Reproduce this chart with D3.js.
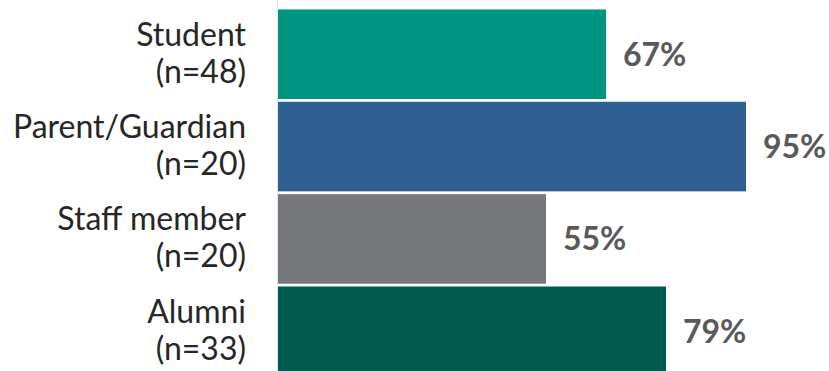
<!DOCTYPE html>
<html><head><meta charset="utf-8">
<script src="https://cdn.jsdelivr.net/npm/d3@7"></script>
<style>html,body{margin:0;padding:0;background:#fff;overflow:hidden}</style>
</head><body>
<svg id="chart" width="829" height="371"></svg>
<script>
const categories = ["Student", "Parent/Guardian", "Staff member", "Alumni"];
const counts = ["(n=48)", "(n=20)", "(n=20)", "(n=33)"];
const values = [67, 95, 55, 79];
const colors = ["#009483", "#2F5E92", "#77787B", "#00594F"];

const svg = d3.select("#chart");
const x = d3.scaleLinear().domain([1.4, 100]).range([278, 771]);
const y = d3.scaleBand().domain(categories).range([8.5, 377]).paddingInner(0.03).paddingOuter(0.01);

const font = "Lato, 'Open Sans', sans-serif";

svg.selectAll("rect.bar").data(categories).join("rect")
  .attr("class", "bar")
  .attr("x", x.range()[0])
  .attr("y", d => y(d))
  .attr("width", (d, i) => x(values[i]) - x.range()[0])
  .attr("height", y.bandwidth())
  .attr("fill", (d, i) => colors[i]);

svg.append("line").attr("x1", x.range()[0] - 0.5).attr("x2", x.range()[0] - 0.5)
  .attr("y1", 0).attr("y2", 371).attr("stroke", "#e4e4e4").attr("stroke-width", 1);

const lbl = svg.selectAll("text.cat").data(categories).join("text")
  .attr("class", "cat")
  .attr("text-anchor", "end")
  .attr("font-family", font)
  .attr("font-size", 32)
  .attr("fill", "#262626");
lbl.append("tspan").attr("x", 246).attr("y", d => y(d) + y.bandwidth() / 2 - 8.5).text(d => d);
lbl.append("tspan").attr("x", 246).attr("y", d => y(d) + y.bandwidth() / 2 + 28.5).text((d, i) => counts[i]);

svg.selectAll("text.val").data(categories).join("text")
  .attr("class", "val")
  .attr("x", (d, i) => x(values[i]) + 17)
  .attr("y", d => y(d) + y.bandwidth() / 2)
  .attr("dy", "0.36em")
  .attr("font-family", font)
  .attr("font-weight", "bold")
  .attr("font-size", 32)
  .attr("fill", "#595959")
  .text((d, i) => values[i] + "%");
</script>
</body></html>
